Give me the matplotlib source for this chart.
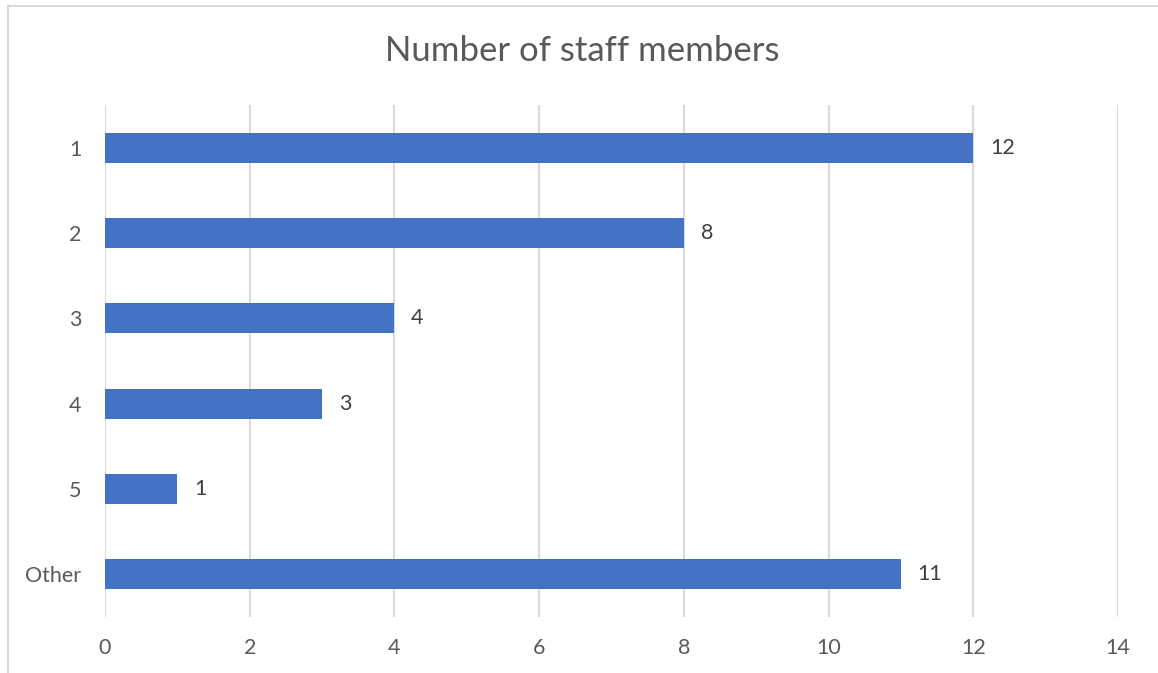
import matplotlib.pyplot as plt
from matplotlib.patches import Rectangle

# Данные
categories = ["1", "2", "3", "4", "5", "Other"]
values = [12, 8, 4, 3, 1, 11]
x_ticks = [0, 2, 4, 6, 8, 10, 12, 14]

plt.rcParams['font.family'] = ['Lato', 'DejaVu Sans']
text_color = '#595959'

fig = plt.figure(figsize=(11.58, 6.73), dpi=100)
ax = fig.add_axes([105 / 1158, 1 - 617 / 673, 1013 / 1158, 512 / 673])

# Рамка вокруг графика
fig.patches.append(Rectangle((8 / 1158, -0.1), 1.2, 1 - 6 / 673 + 0.1,
                             transform=fig.transFigure, fill=False,
                             edgecolor='#d9d9d9', linewidth=1.5))

ypos = list(range(len(categories)))
ax.barh(ypos, values, height=0.35, color='#4472c4', zorder=3)
for y, v in zip(ypos, values):
    ax.annotate(str(v), (v, y), xytext=(12, 0), textcoords='offset points',
                va='center', ha='left', fontsize=15.5, color='#404040')

ax.set_xlim(0, 14)
ax.set_ylim(len(categories) - 0.5, -0.5)
ax.set_xticks(x_ticks)
ax.set_yticks(ypos)
ax.set_yticklabels(categories)
ax.grid(axis='x', color='#d9d9d9', linewidth=1.5, zorder=0)
for s in ax.spines.values():
    s.set_visible(False)
ax.tick_params(axis='both', length=0, labelsize=15.5, labelcolor=text_color)
ax.tick_params(axis='y', pad=17)
ax.tick_params(axis='x', pad=15)

fig.text(0.503, 1 - 51 / 673, "Number of staff members", ha='center',
         va='center', fontsize=25, color=text_color)

fig.savefig('out.png', dpi=100)
